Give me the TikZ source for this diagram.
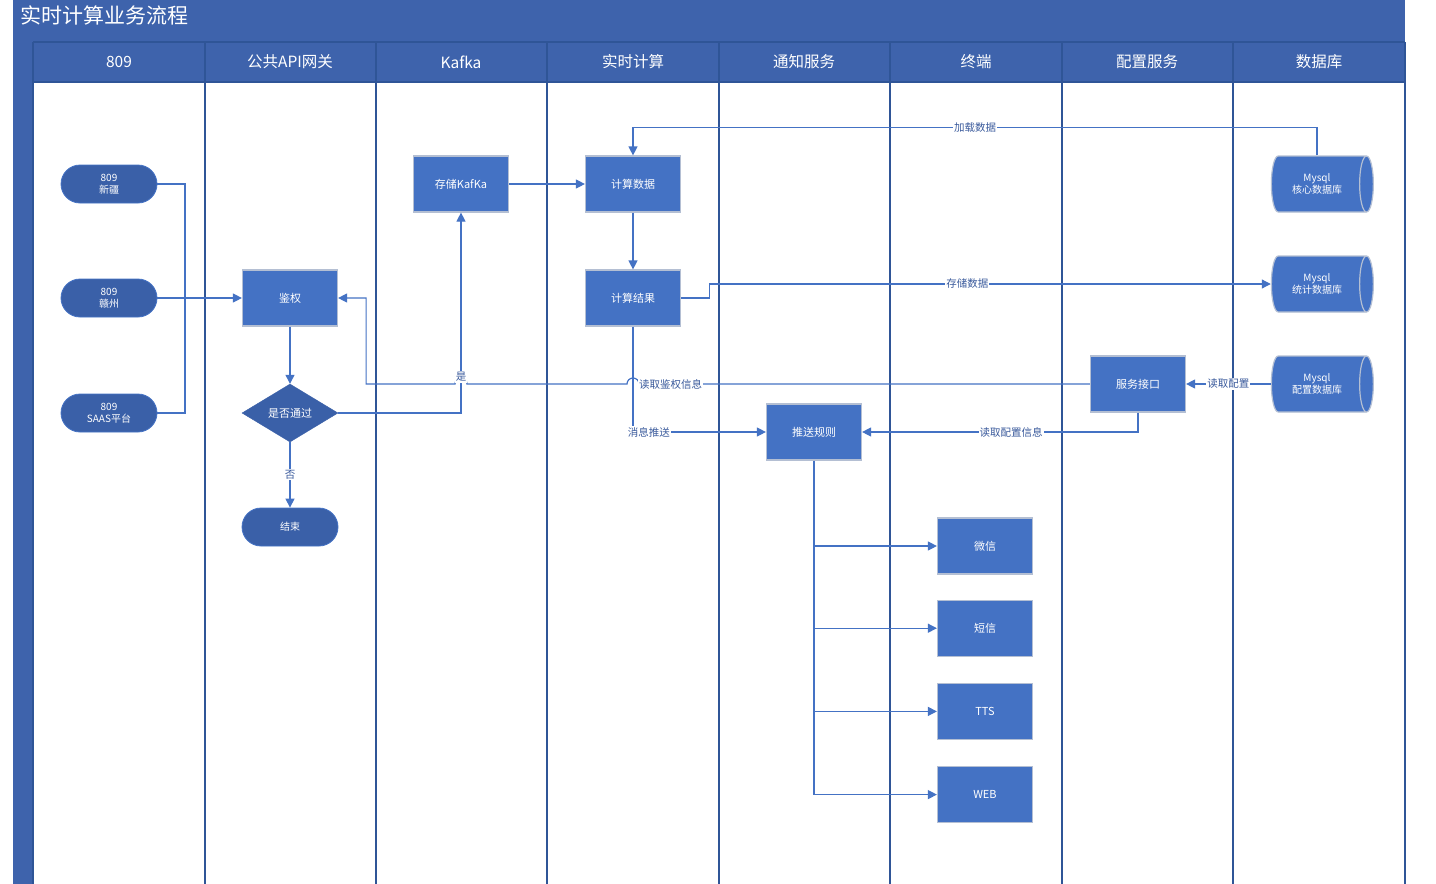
\documentclass[tikz,border=0pt]{standalone}
\usepackage{fontspec}
\setmainfont{Noto Sans CJK SC}
\usetikzlibrary{positioning}
\usetikzlibrary{calc}
\usetikzlibrary{arrows.meta}
\usetikzlibrary{shapes.geometric}
\definecolor{barblue}{HTML}{3E63AC}
\definecolor{laneline}{HTML}{2F5597}
\definecolor{procblue}{HTML}{4472C4}
\definecolor{termblue}{HTML}{3A60A8}
\definecolor{lineblue}{HTML}{4472C4}
\definecolor{boxedge}{HTML}{B4BFD3}
\definecolor{labelblue}{HTML}{3A5A9C}
\tikzset{%
  link/.style = {draw=lineblue, line width=1.2pt},
  flow/.style = {link, -{Triangle[length=9pt,width=9pt]}},
  proc/.style = {rectangle, draw=boxedge, fill=procblue, text=white,
        line width=1.2pt, minimum width=95pt, minimum height=56pt,
        font=\fontsize{11}{13}\selectfont},
  term/.style = {rectangle, rounded corners=19pt, draw=lineblue, fill=termblue,
        text=white, align=center, line width=0.8pt, minimum width=96pt,
        minimum height=38pt, font=\fontsize{10}{12}\selectfont},
  dec/.style = {diamond, draw=termblue, fill=termblue, text=white,
        minimum width=96pt, minimum height=58pt, inner sep=0pt,
        font=\fontsize{11}{13}\selectfont},
  db/.style = {cylinder, shape aspect=0.5, draw=boxedge, fill=procblue,
        text=white, align=center, line width=1.2pt, minimum width=56pt,
        minimum height=102pt, font=\fontsize{10}{12}\selectfont},
  lbl/.style = {fill=white, inner sep=1pt, text=labelblue,
        font=\fontsize{10.5}{12}\selectfont},
  head/.style = {text=white, font=\fontsize{15.5}{18}\selectfont}
}

\begin{document}
\begin{tikzpicture}[x=1pt, y=-1pt]
  \useasboundingbox[fill=white] (0,0) rectangle (1436,884);
  % pool
  \fill[barblue] (13,0) rectangle (1405,82);
  \fill[barblue] (13,82) rectangle (33,884);
  \node[text=white, anchor=west, font=\fontsize{21}{24}\selectfont] (title) at (17,15) {实时计算业务流程};
  \draw[laneline, line width=1.5pt] (33,42) -- (1405,42);
  \draw[laneline, line width=1.5pt] (33,82) -- (1405,82);
  \foreach \x in {33,205,376,547,719,890,1062,1233,1405}
    \draw[laneline, line width=1.5pt] (\x,42) -- (\x,884);
  \foreach \x/\name/\txt in {119/h1/809, 290/h2/公共API网关, 461/h3/Kafka,
        633/h4/实时计算, 804/h5/通知服务, 976/h6/终端, 1147/h7/配置服务, 1319/h8/数据库}
    \node[head] (\name) at (\x,62) {\txt};

  % nodes
  \node[term] (xj) at (109,184) {809\\新疆};
  \node[term] (gz) at (109,298) {809\\赣州};
  \node[term] (saas) at (109,413) {809\\SAAS平台};
  \node[proc] (jq) at (290,298) {鉴权};
  \node[dec] (pass) at (290,413) {是否通过};
  \node[term] (end) at (290,527) {结束};
  \node[proc] (kafka) at (461,184) {存储KafKa};
  \node[proc] (calc) at (633,184) {计算数据};
  \node[proc] (result) at (633,298) {计算结果};
  \node[proc] (rule) at (814,432) {推送规则};
  \node[proc] (api) at (1138,384) {服务接口};
  \node[db] (coredb) at (1317,184) {Mysql\\核心数据库};
  \node[db] (statdb) at (1317,284) {Mysql\\统计数据库};
  \node[db] (cfgdb) at (1317,384) {Mysql\\配置数据库};
  \node[proc] (wx) at (985,546) {微信};
  \node[proc, below=25pt of wx] (sms) {短信};
  \node[proc, below=26pt of sms] (tts) {TTS};
  \node[proc, below=26pt of tts] (web) {WEB};

  % connectors
  \coordinate (bus) at (185,298);
  \draw[link] (xj.east) -| (bus);
  \draw[link] (saas.east) -| (bus);
  \draw[flow] (gz.east) -- (jq.west);
  \draw[flow] (jq) -- (pass);
  \draw[flow] (pass) -- node[lbl] {否} (end);
  \coordinate (hopA) at (kafka.south |- api.west);
  \coordinate (hopB) at (calc.south |- api.west);
  \draw[flow] (api.west) -- node[lbl, pos=0.93] {读取鉴权信息} ($(hopB)+(6,0)$)
        arc[start angle=0, end angle=-180, radius=6] -- ($(hopA)+(6,0)$)
        arc[start angle=0, end angle=-180, radius=6]
        -- ($(jq.east |- api.west)+(28,0)$) |- (jq.east);
  \draw[flow] (pass.east) -| node[lbl, pos=0.59] {是} (kafka.south);
  \draw[flow] (kafka) -- (calc);
  \draw[flow] (coredb.north) -- ++(0,-28) -| node[lbl, pos=0.25] {加载数据} (calc.north);
  \draw[flow] (calc) -- (result);
  \draw[flow] (result.east) -- ++(28,0) |- node[lbl, pos=0.73] {存储数据} (statdb.west);
  \draw[flow] (result.south) |- node[lbl, pos=0.56] {消息推送} (rule.west);
  \draw[flow] (cfgdb.west) -- node[lbl] {读取配置} (api.east);
  \draw[flow] (api.south) |- node[lbl, pos=0.73] {读取配置信息} (rule.east);
  \draw[link] (rule.south) -- (rule.south |- web.west);
  \foreach \t in {wx,sms,tts,web}
    \draw[flow] (rule.south |- \t.west) -- (\t.west);
\end{tikzpicture}
\end{document}
